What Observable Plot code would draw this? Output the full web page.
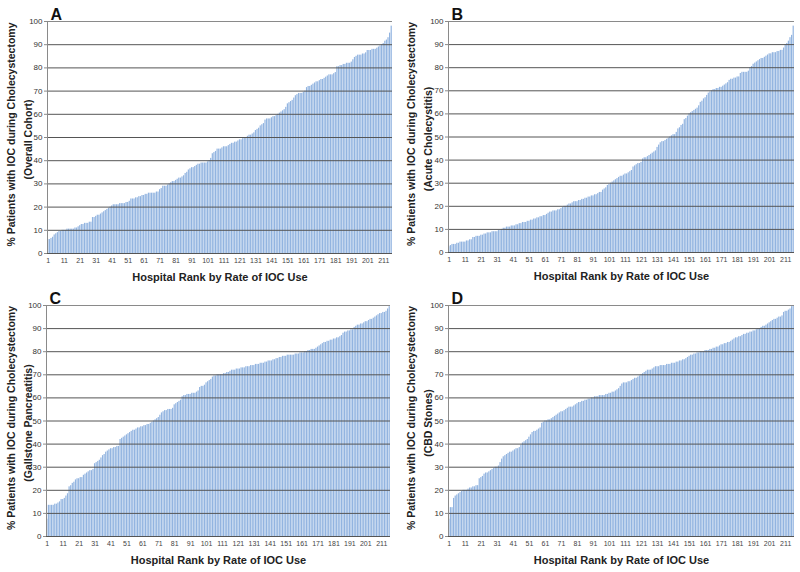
<!DOCTYPE html>
<html>
<head>
<meta charset="utf-8">
<script src="https://cdn.jsdelivr.net/npm/d3@7"></script>
<script src="https://cdn.jsdelivr.net/npm/@observablehq/plot@0.6"></script>
<style>
  html, body { margin: 0; padding: 0; background: #fff; }
  #grid { width: 800px; height: 572px; display: grid; grid-template-columns: 400px 400px; grid-template-rows: 286px 286px; }
  #grid svg { display: block; }
</style>
</head>
<body>
<div id="grid"></div>
<script>
// ---- Data ----
const yAxisTitle = "% Patients with IOC during Cholecystectomy";
const xAxisTitle = "Hospital Rank by Rate of IOC Use";
const panelLetters = ["A", "B", "C", "D"];
const panelSubtitles = ["(Overall Cohort)", "(Acute Cholecystitis)", "(Gallstone Pancreatitis)", "(CBD Stones)"];
const xTickLabels = [1, 11, 21, 31, 41, 51, 61, 71, 81, 91, 101, 111, 121, 131, 141, 151, 161, 171, 181, 191, 201, 211];
const yTickLabels = [0, 10, 20, 30, 40, 50, 60, 70, 80, 90, 100];

const overallCohort = [
  6, 6, 6.5, 7, 8, 8.5, 9, 9.5, 9.5, 10,
  10, 10, 10.5, 10.5, 10.5, 10.5, 10.5, 11, 11, 11.5,
  12, 12.5, 12.5, 13, 13, 13, 13.5, 13.5, 15.5, 15.5,
  16, 16.5, 16.5, 17, 17.5, 18, 18.5, 19, 19.5, 20,
  20.5, 21, 21, 21, 21, 21.5, 21.5, 21.5, 21.5, 22,
  22, 22.5, 23.5, 23.5, 23.5, 24, 24, 24.5, 24.5, 25,
  25, 25.5, 25.5, 26, 26, 26, 26, 26, 26.5, 26.5,
  27.5, 28, 29, 29, 29, 29.5, 30, 30.5, 31, 31,
  31.5, 32, 32.5, 32.5, 33, 33.5, 34.5, 35, 36, 36.5,
  37, 37, 37.5, 38, 38.5, 38.5, 39, 39, 39, 39,
  39.5, 40, 41, 43, 43.5, 44, 45, 45, 45, 45.5,
  46, 46, 46, 46.5, 47, 47.5, 47.5, 48, 48, 48.5,
  49, 49, 49.5, 50, 50, 50.5, 51, 51, 51.5, 52,
  53, 53.5, 54, 55, 55.5, 56, 57.5, 58, 58, 58,
  58.5, 59, 59, 59.5, 60, 60.5, 61, 61.5, 62, 63,
  64.5, 65, 65.5, 66, 67, 68, 68.5, 69, 69, 69,
  69.5, 70, 71.5, 72, 72, 72.5, 73, 73.5, 74, 74,
  74.5, 75, 75, 75.5, 76, 76.5, 77, 77, 77, 77.5,
  78, 80.5, 80.5, 81, 81, 81.5, 81.5, 82, 82, 82,
  82.5, 83.5, 84.5, 85, 85.5, 85.5, 85.5, 86, 86, 86.5,
  87.5, 87.5, 87.5, 88, 88, 88, 88.5, 89, 89.5, 90,
  90.5, 91.5, 92, 93, 95, 98
];

const acuteCholecystitis = [
  2.5, 3, 3.5, 3.5, 3.5, 4, 4, 4.5, 4.5, 4.5,
  4.5, 5, 5, 5.5, 5.5, 6.5, 6.5, 7, 7, 7,
  7.5, 7.5, 8, 8, 8.5, 8.5, 8.5, 9, 9, 9,
  9, 9.5, 9.5, 10, 10.5, 10.5, 11, 11, 11, 11.5,
  11.5, 11.5, 12, 12, 12.5, 12.5, 13, 13, 13, 13.5,
  13.5, 14, 14, 14.5, 14.5, 15, 15, 15.5, 15.5, 16,
  16, 16.5, 17, 17.5, 17.5, 18, 18, 18, 18.5, 18.5,
  19, 19.5, 20, 20, 20.5, 21, 21, 21.5, 22, 22,
  22, 22.5, 22.5, 23, 23, 23.5, 23.5, 24, 24, 24.5,
  24.5, 25, 25, 25.5, 26, 26, 27, 27.5, 28, 29,
  29.5, 30, 30.5, 31, 31.5, 32, 32.5, 33, 33, 33.5,
  34, 34, 34.5, 35, 35.5, 37, 37.5, 38, 38.5, 38.5,
  39, 40.5, 41, 41, 41.5, 42, 42.5, 43, 43.5, 44,
  45.5, 46.5, 47.5, 48, 48, 48.5, 49, 49.5, 50, 50.5,
  51, 51, 52, 53.5, 54, 55, 55.5, 57.5, 58, 59,
  60, 60.5, 61, 61.5, 62, 62.5, 63.5, 65, 65.5, 66.5,
  67, 68, 69, 69.5, 70, 70.5, 70.5, 71, 71, 71.5,
  71.5, 72, 72.5, 73, 73.5, 74.5, 75, 75, 75.5, 75.5,
  76, 76, 77.5, 78, 78, 78, 78, 78.5, 80, 80.5,
  81.5, 82, 82.5, 83, 83.5, 84, 84, 84.5, 85, 85.5,
  86, 86, 86.5, 86.5, 86.5, 87, 87, 87.5, 87.5, 88.5,
  90, 90.5, 91.5, 93, 94, 98
];

const gallstonePancreatitis = [
  7.5, 13.5, 13.5, 13.5, 13.5, 14, 14, 14.5, 15, 16,
  16, 16.5, 17.5, 18.5, 21.5, 22, 23, 23.5, 24.5, 25,
  25, 25.5, 25.5, 26.5, 27, 27.5, 28, 28.5, 28.5, 29,
  31.5, 32, 32.5, 33, 34, 35, 35.5, 36.5, 37, 37.5,
  38, 38, 38.5, 38.5, 39, 39, 42, 42.5, 43, 43.5,
  44, 44.5, 45, 45.5, 46, 46, 46.5, 47, 47, 47.5,
  47.5, 48, 48, 48.5, 48.5, 49, 49.5, 50, 50.5, 51,
  51.5, 52.5, 53.5, 54, 54.5, 54.5, 55, 55, 55, 55.5,
  57, 57.5, 58, 58.5, 59, 60.5, 61, 61, 61.5, 61.5,
  61.5, 62, 62, 62, 62.5, 63, 64.5, 65, 65, 65.5,
  66.5, 67, 67.5, 68, 69, 69.5, 69.5, 70, 70, 70,
  70, 70.5, 70.5, 71, 71, 71.5, 72, 72, 72, 72.5,
  72.5, 72.5, 73, 73, 73, 73.5, 73.5, 73.5, 74, 74,
  74, 74.5, 74.5, 74.5, 75, 75, 75, 75.5, 75.5, 76,
  76, 76, 76.5, 76.5, 77, 77, 77.5, 77.5, 78, 78,
  78, 78.5, 78.5, 78.5, 78.5, 78.5, 79, 79, 79, 79.5,
  79.5, 79.5, 80, 80, 80.5, 80.5, 81, 81, 81, 81.5,
  82, 82.5, 83, 83.5, 84, 84, 84.5, 84.5, 85, 85,
  85.5, 85.5, 86, 86, 86.5, 87, 88, 88.5, 88.5, 89,
  89, 89.5, 89.5, 90.5, 91, 91.5, 91.5, 92, 92, 92.5,
  93, 93, 93.5, 94, 94, 94.5, 95, 95.5, 96, 96.5,
  96.5, 97, 97, 97.5, 98.5, 99.5
];

const cbdStones = [
  7.5, 12.5, 12.5, 16.5, 17.5, 18, 18.5, 19, 19.5, 20,
  20, 20, 20.5, 21, 21, 21.5, 21.5, 22, 22, 25,
  25.5, 26, 27, 27.5, 27.5, 28, 28.5, 29, 29.5, 30,
  30, 30.5, 32, 33.5, 34.5, 35, 35.5, 36, 36.5, 36.5,
  37, 37.5, 38, 38, 38.5, 39.5, 40.5, 41, 41.5, 42,
  43, 44, 45, 45.5, 45.5, 46, 46.5, 47, 49, 49.5,
  50, 50, 50.5, 50.5, 51, 51.5, 52, 52.5, 53, 53.5,
  54, 54, 54.5, 55, 55.5, 56, 56, 56, 56.5, 57,
  57.5, 58, 58, 58.5, 58.5, 59, 59, 59.5, 59.5, 60,
  60, 60.5, 60.5, 60.5, 61, 61, 61, 61, 61.5, 61.5,
  62, 62, 62.5, 62.5, 63, 63.5, 64, 65, 66, 66.5,
  66.5, 66.5, 67, 67, 67.5, 68, 68.5, 68.5, 69, 69.5,
  70, 70.5, 71, 71.5, 72, 72, 72, 72.5, 73, 73.5,
  73.5, 73.5, 74, 74, 74, 74, 74.5, 74.5, 74.5, 75,
  75, 75, 75.5, 75.5, 76, 76, 76.5, 76.5, 77, 77.5,
  78, 78.5, 78.5, 79, 79, 79.5, 79.5, 80, 80, 80,
  80.5, 80.5, 80.5, 81, 81, 81.5, 81.5, 82, 82, 82.5,
  83, 83, 83.5, 83.5, 84, 84, 84.5, 85, 85.5, 86,
  86, 86.5, 86.5, 87, 87.5, 87.5, 88, 88, 88.5, 88.5,
  89, 89, 89.5, 90, 90, 90.5, 91, 91, 91.5, 92,
  92.5, 93, 93.5, 94, 94, 94.5, 95, 95, 95.5, 97,
  97.5, 97.5, 98, 98.5, 99.5, 100
];

const seriesList = [overallCohort, acuteCholecystitis, gallstonePancreatitis, cbdStones];

// ---- Layout per panel ----
const layouts = [
  {ml: 47, mr: 8, mt: 21, mb: 33},
  {ml: 48, mr: 6, mt: 21, mb: 34},
  {ml: 46, mr: 10, mt: 19, mb: 36},
  {ml: 48, mr: 6, mt: 19, mb: 36}
];

const FONT = "'Liberation Sans', Arial, Helvetica, sans-serif";
const grid = document.getElementById("grid");

seriesList.forEach((values, k) => {
  const L = layouts[k];
  const data = values.map((v, i) => ({rank: i + 1, value: v}));
  const n = data.length;
  const chart = Plot.plot({
    width: 400,
    height: 286,
    marginLeft: L.ml,
    marginRight: L.mr,
    marginTop: L.mt,
    marginBottom: L.mb,
    style: {fontFamily: FONT, fontSize: "8px", background: "#fff", color: "#333"},
    x: {type: "linear", domain: [0.5, n + 0.5]},
    y: {domain: [0, 100]},
    marks: [
      Plot.rectY(data, {
        x1: d => d.rank - 0.5,
        x2: d => d.rank + 0.5,
        y: "value",
        insetLeft: 0.2,
        insetRight: 0.2,
        fill: "#92b4e0"
      }),
      Plot.ruleY(yTickLabels.filter(t => t < 100), {stroke: "#555", strokeWidth: 1}),
      Plot.ruleY([100], {stroke: "#8a8a8a", strokeWidth: 1}),
      Plot.ruleX([0.5], {stroke: "#8a8a8a", strokeWidth: 1}),
      Plot.axisY({ticks: yTickLabels, tickSize: 3, tickPadding: 2, fontSize: 8, label: null, stroke: "#8a8a8a", fill: "#333"}),
      Plot.axisX({ticks: xTickLabels, tickSize: 0, tickPadding: 5, fontSize: 7, label: null, fill: "#444"}),
      // axis titles and panel letter
      Plot.text([xAxisTitle], {frameAnchor: "bottom", dy: 24, lineAnchor: "middle", fontSize: 11, fontWeight: "bold", fill: "#222"}),
      Plot.text([yAxisTitle], {frameAnchor: "left", rotate: -90, textAnchor: "middle", lineAnchor: "middle", dx: 11 - L.ml, dy: -3, fontSize: 10.5, fontWeight: "bold", fill: "#222"}),
      Plot.text([panelSubtitles[k]], {frameAnchor: "left", rotate: -90, textAnchor: "middle", lineAnchor: "middle", dx: 28 - L.ml, dy: 2, fontSize: 10.5, fontWeight: "bold", fill: "#222"}),
      Plot.text([panelLetters[k]], {frameAnchor: "top-left", textAnchor: "start", lineAnchor: "bottom", dx: 3, dy: -2, fontSize: 16, fontWeight: "bold", fill: "#111"})
    ]
  });
  grid.appendChild(chart);
});
</script>
</body>
</html>
